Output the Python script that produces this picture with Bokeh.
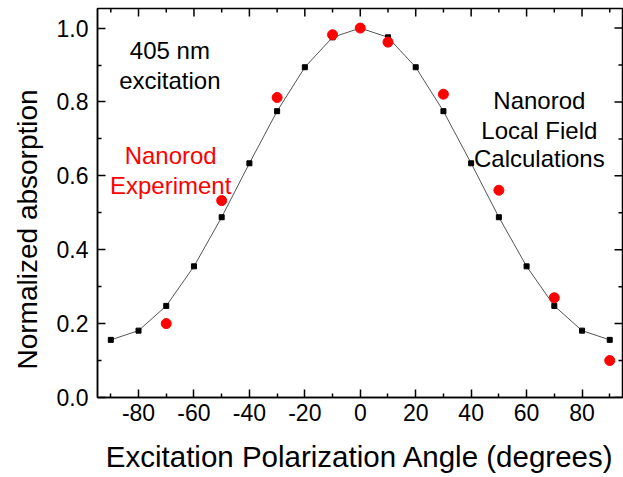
from bokeh.plotting import figure
from bokeh.models import Range1d, FixedTicker, Label, Title
from bokeh.embed import file_html
from bokeh.resources import INLINE

# Calculated local-field curve (black squares)
calc_angle = [-90, -80, -70, -60, -50, -40, -30, -20, -10, 0, 10, 20, 30, 40, 50, 60, 70, 80, 90]
calc_abs = [0.156, 0.181, 0.248, 0.355, 0.488, 0.634, 0.775, 0.894, 0.975, 1.0,
            0.975, 0.894, 0.775, 0.634, 0.488, 0.355, 0.248, 0.181, 0.156]

# Experimental points (red circles)
exp_angle = [-70, -50, -30, -10, 0, 10, 30, 50, 70, 90]
exp_abs = [0.20, 0.533, 0.812, 0.982, 1.0, 0.962, 0.821, 0.561, 0.270, 0.10]

x_ticks = [-80, -60, -40, -20, 0, 20, 40, 60, 80]
x_tick_labels = ["-80", "-60", "-40", "-20", "0", "20", "40", "60", "80"]
x_minor = [-90, -70, -50, -30, -10, 10, 30, 50, 70, 90]
y_ticks = [0.0, 0.2, 0.4, 0.6, 0.8, 1.0]
y_tick_labels = ["0.0", "0.2", "0.4", "0.6", "0.8", "1.0"]
y_minor = [0.1, 0.3, 0.5, 0.7, 0.9]

FONT = "Liberation Sans"
X0, X1 = -94.8, 94.6
Y0, Y1 = 0.0, 1.053
W, H = 623, 477
ML, MR, MT = 97, 1, 8
FRAME_W = W - ML - MR
FRAME_H = 389

p = figure(width=W, height=H, output_backend="svg", toolbar_location=None,
           x_range=Range1d(X0, X1), y_range=Range1d(Y0, Y1),
           min_border_left=ML, min_border_right=MR, min_border_top=MT,
           min_border_bottom=H - MT - FRAME_H)
p.xgrid.visible = False
p.ygrid.visible = False
p.outline_line_color = "black"
p.outline_line_width = 1.5
p.background_fill_color = "white"
p.border_fill_color = "white"

def style_axis(ax, ticks, minor, labels):
    ax.ticker = FixedTicker(ticks=ticks, minor_ticks=minor)
    ax.major_label_overrides = {t: l for t, l in zip(ticks, labels)}
    ax.axis_line_color = "black"
    ax.axis_line_width = 1.5
    ax.major_tick_line_color = "black"
    ax.major_tick_line_width = 1.5
    ax.minor_tick_line_color = "black"
    ax.minor_tick_line_width = 1.5
    ax.major_tick_in = 8
    ax.major_tick_out = 0
    ax.minor_tick_in = 4
    ax.minor_tick_out = 0
    ax.major_label_text_font = FONT
    ax.major_label_text_color = "black"
    ax.major_label_text_font_size = "23px"

style_axis(p.xaxis[0], x_ticks, x_minor, x_tick_labels)
style_axis(p.yaxis[0], y_ticks, y_minor, y_tick_labels)
p.xaxis[0].major_label_standoff = 6
p.yaxis[0].major_label_standoff = 9
p.xaxis[0].axis_label = "Excitation Polarization Angle (degrees)"
p.xaxis[0].axis_label_text_font = FONT
p.xaxis[0].axis_label_text_font_size = "29.5px"
p.xaxis[0].axis_label_text_font_style = "normal"
p.xaxis[0].axis_label_text_color = "black"
p.xaxis[0].axis_label_standoff = 16

# y-axis title as a side title, starting a little above the frame bottom as in the reference
p.add_layout(Title(text="Normalized absorption", align="left", offset=28,
                   standoff=18, vertical_align="top", text_font=FONT,
                   text_font_size="28px", text_font_style="normal",
                   text_color="black"), "left")

px_x = (X1 - X0) / FRAME_W
px_y = (Y1 - Y0) / FRAME_H
# inward ticks on top and right frame edges, derived from the tick arrays
top_x = x_ticks + x_minor
top_len = [8 * px_y] * len(x_ticks) + [4 * px_y] * len(x_minor)
p.segment(x0=top_x, y0=[Y1] * len(top_x), x1=top_x, y1=[Y1 - l for l in top_len],
          line_color="black", line_width=1.5)
right_y = y_ticks + y_minor
right_len = [8 * px_x] * len(y_ticks) + [4 * px_x] * len(y_minor)
p.segment(x0=[X1] * len(right_y), y0=right_y, x1=[X1 - l for l in right_len], y1=right_y,
          line_color="black", line_width=1.5)

p.line(calc_angle, calc_abs, line_color="#555555", line_width=1)
p.scatter(calc_angle, calc_abs, marker="square", size=5, fill_color="black", line_color="black")
p.scatter(exp_angle, exp_abs, marker="circle", size=10, fill_color="#ff0000", line_color="#ff0000")

def add_text(x, y, t, color="black"):
    p.add_layout(Label(x=x, y=y, text=t, text_align="center", text_baseline="alphabetic",
                       text_font=FONT, text_font_size="24px", text_color=color))

add_text(-68.7, 0.939, "405 nm")
add_text(-68.7, 0.858, "excitation")
add_text(-68.4, 0.655, "Nanorod", "#ff0000")
add_text(-68.4, 0.574, "Experiment", "#ff0000")
add_text(64.6, 0.804, "Nanorod")
add_text(64.6, 0.723, "Local Field")
add_text(64.6, 0.647, "Calculations")

open("out.html", "w").write(file_html(p, INLINE))
